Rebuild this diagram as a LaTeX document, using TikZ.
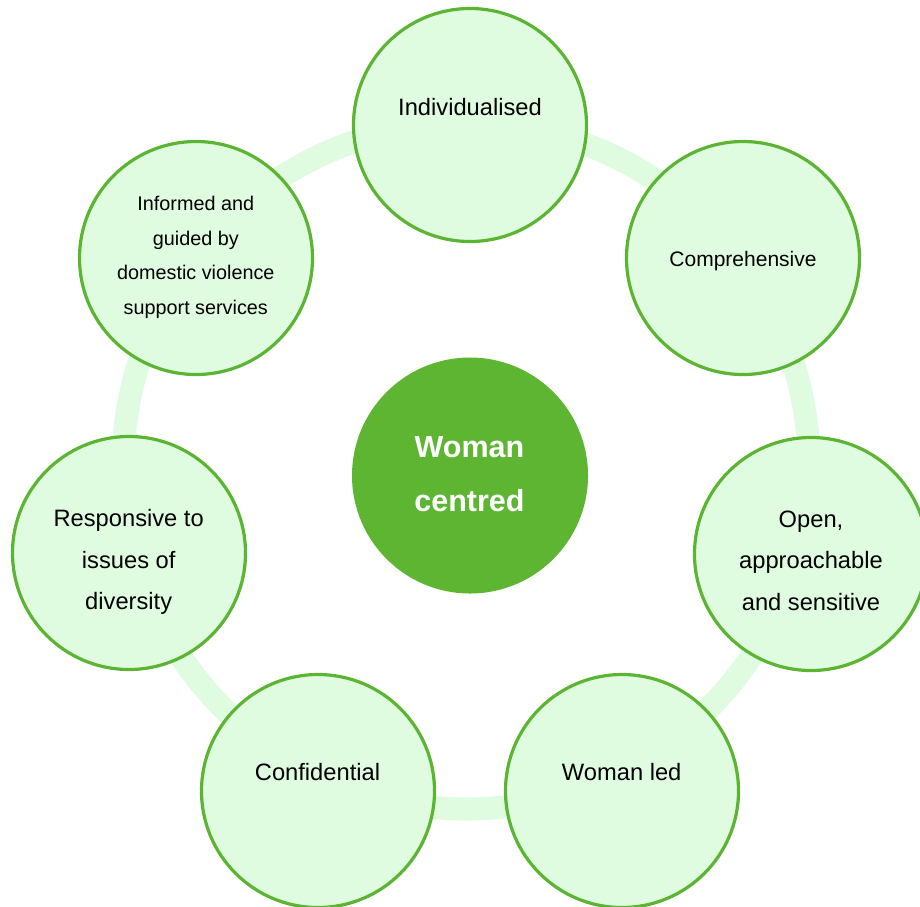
\documentclass[tikz,border=0pt]{standalone}
\usepackage{fontspec}
\setmainfont{Liberation Sans}
\definecolor{ringgreen}{HTML}{E0FCE0}
\definecolor{fillgreen}{HTML}{E0FCE0}
\definecolor{edgegreen}{HTML}{5BB432}
\definecolor{centregreen}{HTML}{5DB532}
\begin{document}
\begin{tikzpicture}[x=1pt,y=-1pt,
  petal/.style={circle, draw=edgegreen, line width=3.2pt, fill=fillgreen,
    minimum size=233pt, inner sep=0pt},
  hub/.style={circle, fill=centregreen, minimum size=236pt, inner sep=0pt},
  lbl/.style={anchor=base, align=center, text=black, inner sep=0pt,
    font=\fontsize{23.7}{41.5}\selectfont},
  lblsmall/.style={lbl, font=\fontsize{19.8}{34.5}\selectfont},
  lblmid/.style={lbl, font=\fontsize{21}{36}\selectfont},
  hublbl/.style={anchor=base, align=center, text=white, inner sep=0pt,
    font=\fontsize{30.5}{54.7}\selectfont\bfseries}]
\useasboundingbox (0,0) rectangle (920,906);
\fill[white] (0,0) rectangle (920,906);
% ring behind the circles
\draw[ringgreen, line width=23pt] (466,466) circle[radius=343];
% central circle
\node[hub] (hub) at (470,475.5) {};
% outer circles
\node[petal] (c1) at (470,125) {};
\node[petal] (c2) at (743,258) {};
\node[petal] (c3) at (811,554) {};
\node[petal] (c4) at (622,791) {};
\node[petal] (c5) at (318,791) {};
\node[petal] (c6) at (129,553) {};
\node[petal] (c7) at (196,258) {};
% labels (anchor base = baseline of the last line)
\node[hublbl] (thub) at (469.5,511.7) {Woman\\centred};
\node[lbl] (t1) at (470,115) {Individualised};
\node[lblmid] (t2) at (743,266) {Comprehensive};
\node[lbl] (t3) at (811,610) {Open,\\approachable\\and sensitive};
\node[lbl] (t4) at (621.7,780) {Woman led};
\node[lbl] (t5) at (317.5,780) {Confidential};
\node[lbl] (t6) at (128.7,609.5) {Responsive to\\issues of\\diversity};
\node[lblsmall] (t7) at (195.8,314.2) {Informed and\\guided by\\domestic violence\\support services};
\end{tikzpicture}
\end{document}
